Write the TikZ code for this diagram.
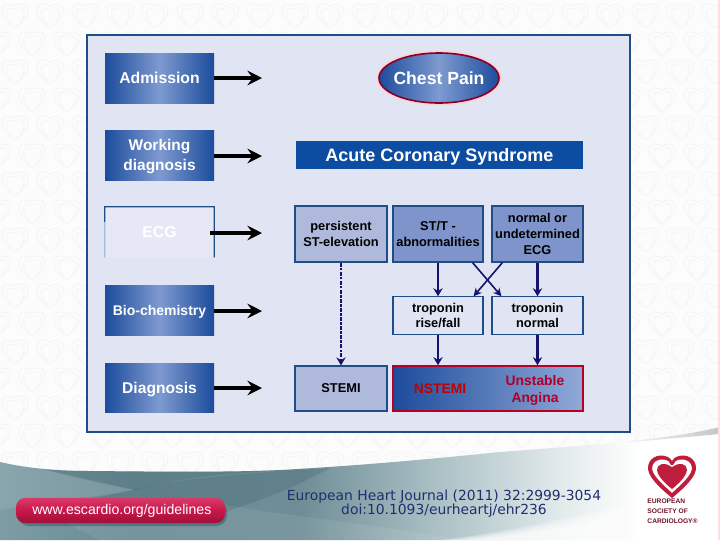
\documentclass[tikz,border=0pt]{standalone}
\usepackage{fontspec}
\setmainfont{Liberation Sans}
\newfontfamily\footfont{DejaVu Sans}
\usetikzlibrary{arrows.meta,shapes.geometric,calc}
\definecolor{panelc}{HTML}{E1E4F3}
\definecolor{framec}{HTML}{1F4E87}
\definecolor{edgeb}{HTML}{1C4C9C}
\definecolor{midb}{HTML}{7E9AD0}
\definecolor{lightb}{HTML}{AEB9DC}
\definecolor{medb}{HTML}{7F94CA}
\definecolor{navy}{HTML}{14146A}
\definecolor{crim}{HTML}{BE1E3C}
\definecolor{heartc}{HTML}{F5F5F7}
\definecolor{footc}{HTML}{1F2F6E}
\definecolor{bandA}{HTML}{7D9CA4}
\definecolor{bandB}{HTML}{6A8B94}
\definecolor{bandC}{HTML}{6F8D96}
\definecolor{bandD}{HTML}{A8BEC3}
\definecolor{bandE}{HTML}{E2EAEB}
\definecolor{bandDark}{HTML}{41656F}
\definecolor{pillc}{HTML}{C8174A}
\definecolor{pillt}{HTML}{DA3A68}
\definecolor{pillb}{HTML}{A01038}
\definecolor{acsc}{HTML}{0C4DA2}
\tikzset{
  blackarrow/.style={line width=2.3pt,black,-{Stealth[length=11pt,width=11pt,inset=4pt]}},
  navyarrow/.style={line width=1.8pt,navy,-{Stealth[length=6pt,width=7pt]}},
  crossarrow/.style={line width=1.2pt,navy,-{Stealth[length=6pt,width=6pt]}},
  gradbox/.style={rectangle,left color=edgeb,right color=edgeb,middle color=midb,text=white,font=\bfseries,align=center,minimum width=81.75pt,minimum height=37.5pt,inner sep=0pt,text depth=0pt},
  ecgbox/.style={rectangle,draw=framec,line width=0.9pt,text=black,font=\bfseries\fontsize{9.6}{11.6}\selectfont,align=center,inner sep=0pt},
  hrt/.style={heartc,line width=0.7pt}
}
\begin{document}
\begin{tikzpicture}[x=0.75pt,y=-0.75pt]
\useasboundingbox (0,0) rectangle (720,540);
% background with faint hearts
\fill[white!98!gray] (0,0) rectangle (720,540);
\foreach \r in {0,...,17}{
  \foreach \c in {0,...,21}{
    \pgfmathsetmacro{\hx}{15+35*\c-mod(\r,2)*18}
    \pgfmathsetmacro{\hy}{15+28*\r}
    \begin{scope}[shift={(\hx,\hy)}]
      \draw[hrt] (0,13) .. controls (-20,0) and (-15,-17) .. (0,-9) .. controls (15,-17) and (20,0) .. (0,13);
      \draw[hrt] (-3,9) .. controls (-12,0) and (-9,-10) .. (-1,-6);
      \draw[hrt] (5,8) .. controls (12,0) and (10,-9) .. (3,-7);
    \end{scope}
  }
}
% footer band
\begin{scope}
  \clip (0,462) .. controls (30,469) and (60,471) .. (92,471) .. controls (180,472) and (240,472) .. (280,470) .. controls (370,465) and (440,458) .. (500,452) .. controls (570,447) and (620,442) .. (630,441) .. controls (670,437) and (700,432) .. (720,427) -- (720,540) -- (0,540) -- cycle;
  \shade[left color=bandA,right color=bandB] (0,420) rectangle (130.5,540);
  \shade[left color=bandB,right color=bandC] (130,420) rectangle (300.5,540);
  \shade[left color=bandC,right color=bandD] (300,420) rectangle (430.5,540);
  \shade[left color=bandD,right color=bandE] (430,420) rectangle (560.5,540);
  \shade[left color=bandE,right color=white] (560,420) rectangle (640.5,540);
  \fill[white] (640,420) rectangle (720,540);
  % thin grey streak at upper right
  \shade[left color=white,right color=gray!45] (610,444) -- (720,426) -- (720,434) -- cycle;
  % creases
  \fill[bandDark,opacity=.3] (30,464) .. controls (70,478) and (110,485) .. (135,490) .. controls (170,480) and (210,474) .. (290,470) -- (92,471) -- cycle;
  \fill[bandDark,opacity=.3] (95,498) -- (135,489) .. controls (180,478) and (260,472) .. (330,468) .. controls (290,490) and (260,500) .. (225,512) -- cycle;
  \fill[white,opacity=.1] (0,510) .. controls (50,500) and (100,497) .. (135,490) .. controls (90,480) and (40,468) .. (0,462) -- cycle;
  \fill[white,opacity=.08] (225,505) .. controls (280,515) and (380,525) .. (463,540) -- (100,540) -- (60,520) -- cycle;
  \foreach \d in {0,6,...,36}{
    \fill[white,opacity=.22] (440+\d,540) .. controls (510+\d,532) and (600,512+\d*.4) .. (720,478+\d*.4) -- (720,540) -- cycle;
  }
\end{scope}
\fill[red!12] (718,0) rectangle (720,540);
% panel
\fill[panelc] (87,35) rectangle (630,432);
\draw[framec,line width=1.5pt] (87,35) rectangle (630,432);
% left column
\node[gradbox,font=\bfseries\fontsize{11.8}{14}\selectfont] (adm) at (159.5,78) {Admission};
\node[gradbox,font=\bfseries\fontsize{11.6}{15}\selectfont] (wrk) at (159.5,155) {Working\\diagnosis};
\node[rectangle,minimum width=81.75pt,minimum height=37.5pt,inner sep=0pt,fill=panelc!85!white,text=white,font=\bfseries\fontsize{11.8}{14}\selectfont] (ecg) at (159.5,232) {ECG};
\draw[framec,line width=0.8pt] (ecg.south east) -- (ecg.north east) -- (ecg.north west) -- ($(ecg.north west)!0.3!(ecg.south west)$);
\draw[midb!70!white,line width=0.8pt] ($(ecg.north west)!0.3!(ecg.south west)$) -- (ecg.south west);
\node[gradbox,font=\bfseries\fontsize{10.5}{13}\selectfont] (bio) at (159.5,310) {Bio-chemistry};
\node[gradbox,font=\bfseries\fontsize{11.7}{14}\selectfont,minimum height=36.75pt] (dgn) at (159.5,387.5) {Diagnosis};
% top nodes
\node[ellipse,draw=pink!70!white,line width=2.2pt,minimum width=91.5pt,minimum height=39pt,inner sep=0pt] (cpo) at (439,78) {};
\node[ellipse,draw=black!30!purple,line width=1.2pt,left color=edgeb,right color=edgeb,middle color=midb,minimum width=90pt,minimum height=37.5pt,inner sep=0pt] (chest) at (439,78) {};
\node[text=white,font=\bfseries\fontsize{13.2}{15}\selectfont,inner sep=0pt] (chestt) at (chest.center) {Chest Pain};
\node[rectangle,fill=acsc,text=white,font=\bfseries\fontsize{13.5}{16}\selectfont,minimum width=215.25pt,minimum height=21pt,inner sep=0pt,text depth=0pt] (acs) at (439.5,155) {Acute Coronary Syndrome};
% ECG row
\node[ecgbox,fill=lightb,minimum width=69pt,minimum height=42pt] (per) at (341,234) {persistent\\ST-elevation};
\node[ecgbox,fill=medb,minimum width=67.5pt,minimum height=42pt] (stt) at (438,234) {ST/T -\\abnormalities};
\node[ecgbox,fill=medb,minimum width=68.25pt,minimum height=42pt,font=\bfseries\fontsize{9.6}{12.2}\selectfont] (nor) at (537.5,234) {normal or\\undetermined\\ECG};
% troponin row
\node[ecgbox,fill=panelc,minimum width=67.5pt,minimum height=28pt] (trr) at (438,315.5) {troponin\\rise/fall};
\node[ecgbox,fill=panelc,minimum width=68.25pt,minimum height=28pt] (trn) at (537.5,315.5) {troponin\\normal};
% diagnosis row
\node[ecgbox,fill=lightb,minimum width=69pt,minimum height=33.75pt] (stemi) at (341,388.5) {STEMI};
\node[rectangle,draw=black!20!purple!70!red,line width=1.2pt,left color=edgeb,right color=midb!85!white,minimum width=142.5pt,minimum height=33.75pt,inner sep=0pt] (red) at (488,388.5) {};
\node[text=red!75!black,font=\bfseries\fontsize{10.4}{12}\selectfont] (nst) at (440,388.5) {NSTEMI};
\node[text=purple!80!red!85!black,font=\bfseries\fontsize{10.4}{12.8}\selectfont,align=center,inner sep=0pt] (ua) at (535,390) {Unstable\\Angina};
% arrow ends
\coordinate (a1) at (262,78);
\coordinate (a2) at (262,156);
\coordinate (a3) at (262,233);
\coordinate (a4) at (262,311);
\coordinate (a5) at (262,388);
\draw[blackarrow] (adm.east) -- (a1);
\draw[blackarrow] (wrk.east |- a2) -- (a2);
\draw[blackarrow] ($(ecg.east |- a3)+(-4,0)$) -- (a3);
\draw[blackarrow] (bio.east |- a4) -- (a4);
\draw[blackarrow] (dgn.east |- a5) -- (a5);
% internal arrows
\draw[navyarrow,densely dashdotted] (per.south) -- (stemi.north);
\draw[navyarrow] (stt.south) -- (trr.north);
\draw[navyarrow] (nor.south) -- (trn.north);
\draw[navyarrow] (trr.south) -- (trr.south |- red.north);
\draw[navyarrow] (trn.south) -- (trn.south |- red.north);
\coordinate (x1) at ($(stt.south east)+(-11,0)$);
\coordinate (x2) at ($(trn.north west)+(10,0)$);
\coordinate (x3) at ($(nor.south west)+(11,0)$);
\coordinate (x4) at ($(trr.north east)+(-10,0)$);
\draw[crossarrow] (x1) -- (x2);
\draw[crossarrow] (x3) -- (x4);
% pill
\fill[black!45!teal,opacity=.35,rounded corners=8pt] (18,501) rectangle (227,526);
\node[rectangle,rounded corners=7pt,top color=pillt,bottom color=pillb,middle color=pillc,text=white,font=\fontsize{10.6}{12}\selectfont,minimum width=156.75pt,minimum height=19pt,inner sep=0pt] (url) at (120.5,510.5) {\hspace*{2pt}www.escardio.org/guidelines};
% citation
\node[text=footc,font=\footfont\fontsize{10.4}{10.6}\selectfont,align=center,inner sep=0pt] (cite) at (444,504) {European Heart Journal (2011) 32:2999-3054\\doi:10.1093/eurheartj/ehr236};
% logo
\fill[crim,even odd rule] (672,498) .. controls (655,484) and (648,475) .. (648,468) .. controls (648,458) and (658,454) .. (665,456) .. controls (669,457) and (671,459) .. (672,461) .. controls (673,459) and (675,457) .. (679,456) .. controls (686,454) and (696,458) .. (696,468) .. controls (696,475) and (689,484) .. (672,498) -- cycle
 (672,493) .. controls (682,484) and (692,475) .. (692,468) .. controls (692,462) and (686,458.5) .. (680,459.5) .. controls (676,460) and (674,462) .. (673,465) -- (671,465) .. controls (670,462) and (668,460) .. (664,459.5) .. controls (658,458.5) and (652,462) .. (652,468) .. controls (652,475) and (662,484) .. (672,493) -- cycle;
\fill[crim] (672,489) .. controls (662,481) and (657,474) .. (657,470) .. controls (657,464) and (664,462) .. (670,466) -- (672,467) -- (674,466) .. controls (680,462) and (687,464) .. (687,470) .. controls (687,474) and (682,481) .. (672,489) -- cycle;
\node[text=crim!60!black,font=\bfseries\fontsize{5}{7.6}\selectfont,align=left,inner sep=0pt] (esc) at (672.5,511) {EUROPEAN\\SOCIETY OF\\CARDIOLOGY®};
\end{tikzpicture}
\end{document}
